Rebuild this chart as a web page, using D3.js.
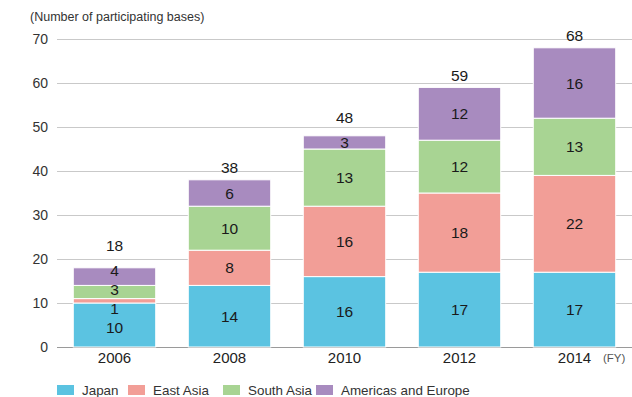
<!DOCTYPE html>
<html>
<head>
<meta charset="utf-8">
<script src="https://cdn.jsdelivr.net/npm/d3@7"></script>
<style>
  html, body { margin: 0; padding: 0; background: #fff; }
  svg { display: block; font-family: "Liberation Sans", Arial, Helvetica, sans-serif; }
</style>
</head>
<body>
<svg id="chart" width="632" height="397"></svg>
<script>
// Participating bases by fiscal year and region
const years = ["2006", "2008", "2010", "2012", "2014"];
const regions = ["Japan", "East Asia", "South Asia", "Americas and Europe"];
const japan = [10, 14, 16, 17, 17];
const eastAsia = [1, 8, 16, 18, 22];
const southAsia = [3, 10, 13, 12, 13];
const americasEurope = [4, 6, 3, 12, 16];
const totals = [18, 38, 48, 59, 68];
const yTicks = [0, 10, 20, 30, 40, 50, 60, 70];
const colors = ["#5bc3e1", "#f29e97", "#a8d493", "#a88bbf"];

const rows = years.map((yr, i) => ({
  year: yr,
  "Japan": japan[i],
  "East Asia": eastAsia[i],
  "South Asia": southAsia[i],
  "Americas and Europe": americasEurope[i],
  total: totals[i]
}));

const svg = d3.select("#chart");
const plotLeft = 57, plotRight = 632, plotTop = 39, plotBottom = 347;

const x = d3.scaleBand().domain(years).range([plotLeft, plotRight])
  .paddingInner(0.283).paddingOuter(0.1415);
const y = d3.scaleLinear().domain([0, 70]).range([plotBottom, plotTop]);
const color = d3.scaleOrdinal().domain(regions).range(colors);

// Unit label
svg.append("text")
  .attr("x", 30).attr("y", 21)
  .attr("font-size", 12.5).attr("fill", "#333")
  .text("(Number of participating bases)");

// Gridlines and y tick labels
const yAxis = svg.append("g").attr("transform", `translate(${plotLeft},0)`)
  .call(d3.axisLeft(y).tickValues(yTicks).tickSize(-(plotRight - plotLeft)).tickPadding(9).tickFormat(d3.format("d")));
yAxis.select(".domain").remove();
yAxis.selectAll(".tick line").attr("stroke", d => d === 0 ? "#9a9a9a" : "#c9c9c9").attr("stroke-width", 1);
yAxis.selectAll(".tick text").attr("font-size", 14).attr("fill", "#333")
  .attr("font-family", "'Liberation Sans', Arial, sans-serif");

// Stacked bars
const series = d3.stack().keys(regions)(rows);
const layers = svg.append("g").selectAll("g").data(series).join("g")
  .attr("fill", d => color(d.key));
layers.selectAll("rect").data(d => d).join("rect")
  .attr("x", d => x(d.data.year))
  .attr("width", x.bandwidth())
  .attr("y", d => y(d[1]))
  .attr("height", d => y(d[0]) - y(d[1]))
  .attr("stroke", "#fff").attr("stroke-width", 1);

// Segment value labels: centred in their segment, spread apart where crowded
const minGap = 19;
const labelGroup = svg.append("g");
const topLabelY = {};
years.forEach((yr, i) => {
  const items = series.map(s => {
    const d = s[i];
    return { v: d[1] - d[0], y: (y(d[0]) + y(d[1])) / 2 };
  });
  // merge overlapping neighbours into clusters centred on their mean
  let clusters = items.map(it => ({ items: [it], mean: it.y }));
  let changed = true;
  while (changed) {
    changed = false;
    for (let k = 0; k < clusters.length - 1; k++) {
      const a = clusters[k], b = clusters[k + 1];
      const aTop = a.mean - (a.items.length - 1) * minGap / 2;
      const bBottom = b.mean + (b.items.length - 1) * minGap / 2;
      if (aTop - bBottom < minGap) {
        const merged = a.items.concat(b.items);
        clusters.splice(k, 2, { items: merged, mean: d3.mean(merged, it => it.y) });
        changed = true;
        break;
      }
    }
  }
  clusters.forEach(c => {
    c.items.forEach((it, j) => {
      it.py = c.mean + ((c.items.length - 1) / 2 - j) * minGap;
    });
  });
  items.forEach(it => {
    labelGroup.append("text")
      .attr("x", x(yr) + x.bandwidth() / 2)
      .attr("y", it.py)
      .attr("dy", "0.36em")
      .attr("text-anchor", "middle")
      .attr("font-size", 15.5).attr("fill", "#1a1a1a")
      .text(it.v);
  });
  topLabelY[yr] = items[items.length - 1].py;
});

// Totals above each bar
svg.append("g").selectAll("text").data(rows).join("text")
  .attr("x", d => x(d.year) + x.bandwidth() / 2)
  .attr("y", d => Math.min(y(d.total) - 12, topLabelY[d.year] - 25))
  .attr("dy", "0.36em")
  .attr("text-anchor", "middle")
  .attr("font-size", 15.5).attr("fill", "#1a1a1a")
  .text(d => d.total);

// Year labels
svg.append("g").selectAll("text").data(years).join("text")
  .attr("x", d => x(d) + x.bandwidth() / 2)
  .attr("y", 358).attr("dy", "0.36em")
  .attr("text-anchor", "middle")
  .attr("font-size", 15).attr("fill", "#222")
  .text(d => d);

svg.append("text")
  .attr("x", 603).attr("y", 358).attr("dy", "0.36em")
  .attr("font-size", 11.5).attr("fill", "#555")
  .text("(FY)");

// Legend
const legendX = [57, 128, 223, 316];
const legend = svg.append("g").selectAll("g").data(regions).join("g")
  .attr("transform", (d, i) => `translate(${legendX[i]},385)`);
legend.append("rect").attr("width", 17).attr("height", 10).attr("fill", d => color(d));
legend.append("text").attr("x", 25).attr("y", 5).attr("dy", "0.36em")
  .attr("font-size", 13.4).attr("fill", "#333")
  .text(d => d);
</script>
</body>
</html>
